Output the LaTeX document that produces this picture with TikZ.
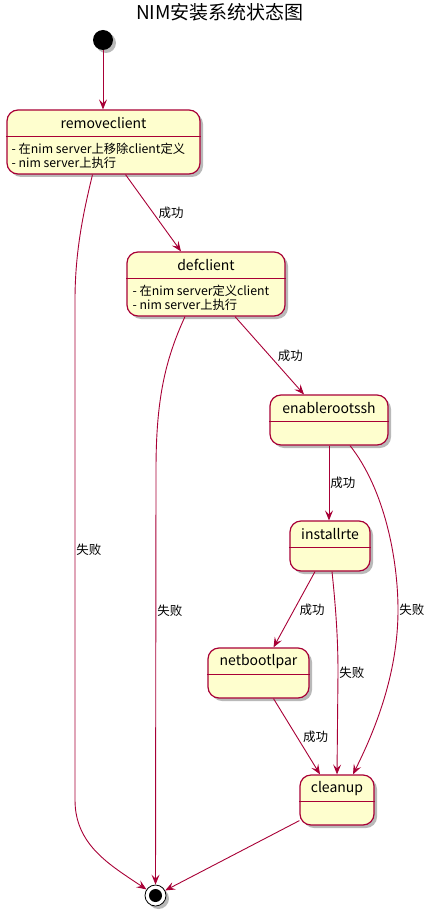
\documentclass[tikz,border=0pt]{standalone}
\usepackage{fontspec}
\setmainfont{Noto Sans CJK SC}
\usetikzlibrary{arrows.meta,shadows}
\definecolor{umlborder}{HTML}{A80036}
\definecolor{umlfill}{HTML}{FEFECE}
\tikzset{
  umlshadow/.style={drop shadow={shadow xshift=3pt, shadow yshift=-3pt, fill=black!50, opacity=.55}},
  state/.style={draw=umlborder, fill=umlfill, line width=1.2pt, rounded corners=11pt, inner sep=0pt, umlshadow},
  statename/.style={font=\fontsize{14}{16}\selectfont, inner sep=0pt},
  statebody/.style={font=\fontsize{12.3}{14}\selectfont, align=left, inner sep=0pt, anchor=north west},
  startstate/.style={circle, fill=black, minimum size=20pt, inner sep=0pt, umlshadow},
  endstate/.style={circle, draw=black, fill=white, line width=0.8pt, minimum size=21pt, inner sep=0pt, umlshadow,
    path picture={\fill[black] (path picture bounding box.center) circle (6.5pt);}},
  trans/.style={draw=umlborder, line width=0.9pt, -{Stealth[length=10pt,width=8pt,inset=4pt]}},
  translabel/.style={font=\fontsize{12.5}{14}\selectfont, inner sep=1pt},
}
% state box: name, centre, width, height, title
\newcommand\umlstate[5]{%
  \node[state, minimum width=#3, minimum height=#4] (#1) at (#2) {};
  \draw[umlborder, line width=1.2pt] ([yshift=-27pt]#1.north west) -- ([yshift=-27pt]#1.north east);
  \node[statename] (#1name) at ([yshift=-14pt]#1.north) {#5};
}
\begin{document}
\begin{tikzpicture}[x=1pt,y=-1pt]
\useasboundingbox (0,0) rectangle (435,917);

\node[font=\fontsize{19}{22}\selectfont, inner sep=0pt] (title) at (220,12) {NIM安装系统状态图};

\node[startstate] (start) at (103,40) {};
\node[endstate] (end) at (155.5,895.5) {};

\umlstate{rc}{103.5,142}{193pt}{64pt}{removeclient}
\node[statebody] (rcbody) at ([xshift=5pt,yshift=-33pt]rc.north west) {- 在nim server上移除client定义\\- nim server上执行};
\umlstate{dc}{206,284}{158pt}{64pt}{defclient}
\node[statebody] (dcbody) at ([xshift=6pt,yshift=-33pt]dc.north west) {- 在nim server定义client\\- nim server上执行};
\umlstate{ep}{329,420}{118pt}{50pt}{enablerootssh}
\umlstate{ir}{330,546}{80pt}{50pt}{installrte}
\umlstate{nb}{258.5,673}{101pt}{50pt}{netbootlpar}
\umlstate{cu}{337,800}{74pt}{50pt}{cleanup}

% transitions
\draw[trans] (start) -- (start |- rc.north);
\draw[trans] ([xshift=22pt]rc.south) -- node[translabel, right, xshift=4pt]{成功} ([xshift=-25pt]dc.north);
\draw[trans] ([xshift=-11pt]rc.south) .. controls (84,210) and (75,250) .. (75,300)
  -- node[translabel, right, pos=.5]{失败} (75,800) .. controls (75,845) and (110,865) .. (end);
\draw[trans] ([xshift=29pt]dc.south) -- node[translabel, right, xshift=7pt]{成功} ([xshift=-25pt]ep.north);
\draw[trans] ([xshift=-21pt]dc.south) .. controls (165,360) and (156,400) .. (156,470)
  -- node[translabel, right, pos=.34]{失败} (end);
\draw[trans] (ep.south) -- node[translabel, right]{成功} (ep.south |- ir.north);
\draw[trans] ([xshift=21pt]ep.south) .. controls (385,490) and (398,560) .. (398,610)
  node[translabel, right]{失败} .. controls (398,680) and (370,740) .. ([xshift=16pt]cu.north);
\draw[trans] ([xshift=-15pt]ir.south) -- node[translabel, right, xshift=4pt]{成功} ([xshift=15pt]nb.north);
\draw[trans] ([xshift=2pt]ir.south) .. controls (336,610) and (338,640) .. (338,673)
  node[translabel, right]{失败} -- (cu.north);
\draw[trans] ([xshift=15pt]nb.south) -- node[translabel, right, xshift=5pt]{成功} ([xshift=-17pt]cu.north);
\draw[trans] ([yshift=5pt]cu.south west) -- (end);
\end{tikzpicture}
\end{document}
